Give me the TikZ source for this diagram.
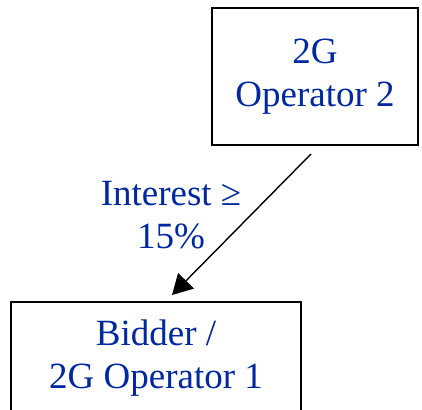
\documentclass[tikz,border=0pt]{standalone}
\usepackage{fontspec}
\newfontfamily\timesrm{Liberation Serif}
\usetikzlibrary{arrows.meta}
\definecolor{txtblue}{RGB}{0,40,160}
\begin{document}
\begin{tikzpicture}[x=1pt, y=-1pt,
        lbl/.style={align=center, font=\fontsize{37}{43}\selectfont\timesrm\color{txtblue}},
        box/.style={lbl, draw=black, line width=2pt},
        arr/.style={-{Triangle[length=20pt,width=22pt]}, line width=1.4pt}]
        \useasboundingbox (0,0) rectangle (422,409);
        \node[box, minimum width=206pt, minimum height=137pt] (op2) at (315,76.5) {2G\\Operator 2};
        \node[box, minimum width=290pt, minimum height=112pt] (bid) at (156,358) {Bidder /\\2G Operator 1};
        \node[lbl] (cond) at (171,215) {Interest ≥\\15\%};
        \draw[arr] ([xshift=-4pt,yshift=-8pt]op2.south) -- ([xshift=16pt,yshift=6pt]bid.north);
    \end{tikzpicture}
\end{document}
